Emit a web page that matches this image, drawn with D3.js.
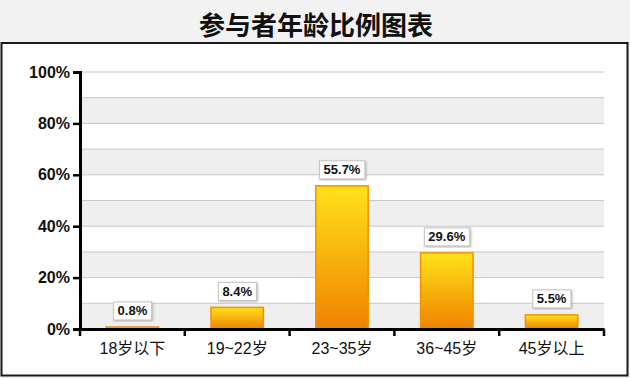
<!DOCTYPE html>
<html>
<head>
<meta charset="utf-8">
<script src="https://cdn.jsdelivr.net/npm/d3@7"></script>
<style>
  html, body { margin: 0; padding: 0; background: #f2f2f2; }
  svg { display: block; }
</style>
</head>
<body>
<div id="app"></div>
<script>
const categories = ["18岁以下", "19~22岁", "23~35岁", "36~45岁", "45岁以上"];
const values = [0.8, 8.4, 55.7, 29.6, 5.5];
const yTicks = [0, 20, 40, 60, 80, 100];
const title = "参与者年龄比例图表";

const width = 630;
const height = 378;
const margin = { top: 72, right: 26, bottom: 49, left: 80 };
const cjk = "'Liberation Sans', Arial, 'Noto Sans CJK SC', sans-serif";

const svg = d3
  .select("#app")
  .append("svg")
  .attr("width", width)
  .attr("height", height);

// background + frame
svg.append("rect").attr("width", width).attr("height", height).attr("fill", "#f2f2f2");
svg
  .append("rect")
  .attr("x", 1.5)
  .attr("y", 43)
  .attr("width", 626)
  .attr("height", 332.5)
  .attr("fill", "#fff")
  .attr("stroke", "#1a1a1a")
  .attr("stroke-width", 2);

svg
  .append("text")
  .attr("x", 316)
  .attr("y", 35)
  .attr("text-anchor", "middle")
  .style("font-family", cjk)
  .style("font-weight", "bold")
  .style("font-size", "26px")
  .attr("fill", "#111")
  .text(title);

const xScale = d3
  .scaleBand()
  .domain(categories)
  .range([margin.left, width - margin.right])
  .paddingInner(0.5)
  .paddingOuter(0.25);

const yScale = d3
  .scaleLinear()
  .domain([0, 100])
  .range([height - margin.bottom, margin.top]);

// alternating bands
svg
  .append("g")
  .selectAll("rect")
  .data(d3.range(0, 100, 20))
  .join("rect")
  .attr("x", margin.left)
  .attr("width", width - margin.right - margin.left)
  .attr("y", d => yScale(d + 10))
  .attr("height", d => yScale(d) - yScale(d + 10))
  .attr("fill", "#efefef");

svg
  .append("g")
  .selectAll("line")
  .data(d3.range(10, 101, 10))
  .join("line")
  .attr("x1", margin.left)
  .attr("x2", width - margin.right)
  .attr("y1", d => yScale(d))
  .attr("y2", d => yScale(d))
  .attr("stroke", "#c8c8c8")
  .attr("stroke-width", 1);

// gradients
const defs = svg.append("defs");
const fillGrad = defs
  .append("linearGradient")
  .attr("id", "barFill")
  .attr("x1", 0).attr("y1", 0).attr("x2", 0).attr("y2", 1);
fillGrad.append("stop").attr("offset", "0%").attr("stop-color", "#ffe21a");
fillGrad.append("stop").attr("offset", "100%").attr("stop-color", "#f08200");

const shadow = defs.append("filter").attr("id", "shadow");
shadow
  .append("feDropShadow")
  .attr("dx", 1)
  .attr("dy", 1)
  .attr("stdDeviation", 0.8)
  .attr("flood-color", "#888")
  .attr("flood-opacity", 0.6);

const data = categories.map((c, i) => ({ cat: c, val: values[i] }));

svg
  .append("g")
  .selectAll("rect")
  .data(data)
  .join("rect")
  .attr("x", d => xScale(d.cat))
  .attr("y", d => yScale(d.val))
  .attr("width", xScale.bandwidth())
  .attr("height", d => yScale(0) - yScale(d.val))
  .attr("fill", "url(#barFill)")
  .attr("stroke", "#f29100")
  .attr("stroke-width", 1.5);

// value labels
const labels = svg
  .append("g")
  .selectAll("g")
  .data(data)
  .join("g")
  .attr("transform", d => `translate(${xScale(d.cat) + xScale.bandwidth() / 2}, ${yScale(d.val) - 7})`);

labels
  .append("text")
  .attr("y", -4.5)
  .attr("text-anchor", "middle")
  .style("font-family", cjk)
  .style("font-weight", "bold")
  .style("font-size", "13px")
  .attr("fill", "#111")
  .text(d => d.val + "%")
  .each(function () {
    const bb = this.getBBox();
    d3.select(this.parentNode)
      .insert("rect", "text")
      .attr("x", bb.x - 4)
      .attr("y", -18)
      .attr("width", bb.width + 8)
      .attr("height", 18)
      .attr("fill", "#fff")
      .attr("stroke", "#c4c4c4")
      .attr("stroke-width", 1)
      .attr("filter", "url(#shadow)");
  });

// axes
const xAxis = d3.axisBottom(xScale).tickSize(0).tickPadding(14);
const gx = svg
  .append("g")
  .attr("transform", `translate(0, ${height - margin.bottom})`)
  .call(xAxis);
gx.select(".domain").attr("stroke", "#000").attr("stroke-width", 3);
gx.selectAll("text")
  .style("font-family", cjk)
  .style("font-size", "16px")
  .attr("fill", "#111");

// category boundary ticks
const bounds = d3.range(categories.length + 1).map(i => margin.left + i * xScale.step());
svg
  .append("g")
  .selectAll("line")
  .data(bounds)
  .join("line")
  .attr("x1", d => d)
  .attr("x2", d => d)
  .attr("y1", yScale(0))
  .attr("y2", yScale(0) + 7)
  .attr("stroke", "#000")
  .attr("stroke-width", 2.5);

const yAxis = d3
  .axisLeft(yScale)
  .tickValues(yTicks)
  .tickFormat(d => d + "%")
  .tickSize(7)
  .tickPadding(3);
const gy = svg
  .append("g")
  .attr("transform", `translate(${margin.left}, 0)`)
  .call(yAxis);
gy.select(".domain").attr("stroke", "#000").attr("stroke-width", 3);
gy.selectAll(".tick line").attr("stroke", "#000").attr("stroke-width", 2.5);
gy.selectAll("text")
  .style("font-family", cjk)
  .style("font-weight", "bold")
  .style("font-size", "16px")
  .attr("fill", "#111");
</script>
</body>
</html>
